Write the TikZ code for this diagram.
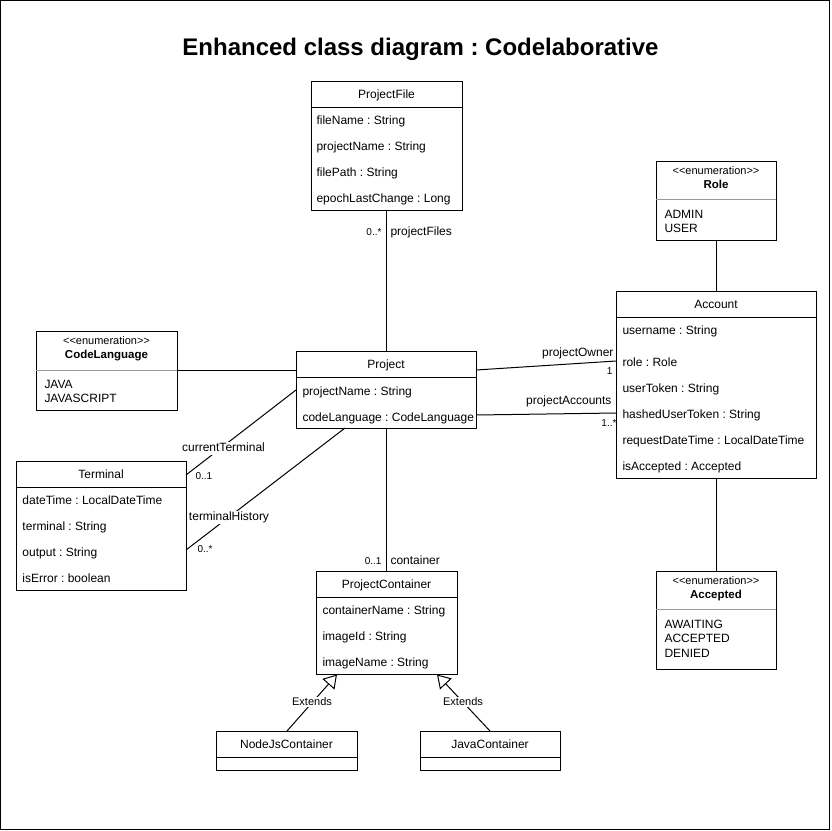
\documentclass[tikz,border=0pt]{standalone}
\usepackage{fontspec}
\setmainfont{Liberation Sans}
\usetikzlibrary{arrows.meta}
\frenchspacing
\newcommand{\enumst}{{<}{<}enumeration{>}{>}}
\begin{document}
\begin{tikzpicture}[x=1pt,y=-1pt,line width=1pt,
  box/.style={draw, inner sep=0, outer sep=0, anchor=north west, fill=white},
  attr/.style={anchor=base west, yshift=-5.2pt, inner sep=0, font=\fontsize{12}{14}\selectfont},
  ctitle/.style={anchor=base, yshift=-4.3pt, inner sep=0, font=\fontsize{12}{14}\selectfont},
  enumname/.style={anchor=base, inner sep=0, font=\fontsize{11.5}{14}\selectfont\bfseries},
  stereo/.style={anchor=base, inner sep=0, font=\fontsize{11}{13}\selectfont},
  elabel/.style={inner sep=1pt, fill=white, text height=8.5pt, text depth=2.5pt, font=\fontsize{12}{14}\selectfont},
  xlabel/.style={inner sep=1pt, fill=white, font=\fontsize{11}{13}\selectfont},
  mult/.style={inner sep=0, font=\fontsize{10}{12}\selectfont},
  divider/.style={line width=1pt},
  graydiv/.style={draw=black!40, line width=1pt},
  conn/.style={line width=1pt},
  ext/.style={line width=1pt, -{Triangle[open,length=13pt,width=16pt]}}
]
\useasboundingbox (0,0) rectangle (831,831);
\draw[line width=1pt] (0.5,0.5) rectangle (829.5,829.5);

\node[inner sep=0, font=\fontsize{24}{28}\selectfont\bfseries] (title) at (420.5,49) {Enhanced class diagram : Codelaborative};

% ProjectFile
\node[box, minimum width=151pt, minimum height=129pt] (pf) at (311,81) {};
\draw[divider] (311,107) -- (462,107);
\node[ctitle] (pft) at (386.5,94) {ProjectFile};
\node[attr] (pf1) at (316,119) {fileName : String};
\node[attr] (pf2) at (316,145) {projectName : String};
\node[attr] (pf3) at (316,171) {filePath : String};
\node[attr] (pf4) at (316,197) {epochLastChange : Long};

% Role
\node[box, minimum width=120pt, minimum height=79pt] (role) at (656,161) {};
\draw[graydiv] (656,199) -- (776,199);
\node[stereo] (roles) at (716,174.5) {\enumst};
\node[enumname] (rolet) at (716,188) {Role};
\node[attr] (role1) at (664,213) {ADMIN};
\node[attr] (role2) at (664,227) {USER};

% Account
\node[box, minimum width=200pt, minimum height=187pt] (acc) at (616,291) {};
\draw[divider] (616,317) -- (816,317);
\node[ctitle] (acct) at (716,304) {Account};
\node[attr] (acc1) at (622,329) {username : String};
\node[attr] (acc2) at (622,361) {role : Role};
\node[attr] (acc3) at (622,387) {userToken : String};
\node[attr] (acc4) at (622,413) {hashedUserToken : String};
\node[attr] (acc5) at (622,439) {requestDateTime : LocalDateTime};
\node[attr] (acc6) at (622,465) {isAccepted : Accepted};

% CodeLanguage
\node[box, minimum width=141pt, minimum height=79pt] (cl) at (36,331) {};
\draw[graydiv] (36,370) -- (177,370);
\node[stereo] (cls) at (106.5,344.5) {\enumst};
\node[enumname] (clt) at (106.5,358) {CodeLanguage};
\node[attr] (cl1) at (44,383) {JAVA};
\node[attr] (cl2) at (44,397) {JAVASCRIPT};

% Project
\node[box, minimum width=180pt, minimum height=77pt] (proj) at (296,351) {};
\draw[divider] (296,377) -- (476,377);
\node[ctitle] (projt) at (386,364) {Project};
\node[attr] (proj1) at (302,390) {projectName : String};
\node[attr] (proj2) at (302,416) {codeLanguage : CodeLanguage};

% Terminal
\node[box, minimum width=170pt, minimum height=129pt] (term) at (16,461) {};
\draw[divider] (16,487) -- (186,487);
\node[ctitle] (termt) at (101,474) {Terminal};
\node[attr] (term1) at (22,499) {dateTime : LocalDateTime};
\node[attr] (term2) at (22,525) {terminal : String};
\node[attr] (term3) at (22,551) {output : String};
\node[attr] (term4) at (22,577) {isError : boolean};

% ProjectContainer
\node[box, minimum width=141pt, minimum height=103pt] (pc) at (316,571) {};
\draw[divider] (316,597) -- (457,597);
\node[ctitle] (pct) at (386.5,584) {ProjectContainer};
\node[attr] (pc1) at (322,609) {containerName : String};
\node[attr] (pc2) at (322,635) {imageId : String};
\node[attr] (pc3) at (322,661) {imageName : String};

% NodeJsContainer
\node[box, minimum width=141pt, minimum height=39pt] (nj) at (216,731) {};
\draw[divider] (216,757) -- (357,757);
\node[ctitle] (njt) at (286.5,744) {NodeJsContainer};

% JavaContainer
\node[box, minimum width=140pt, minimum height=39pt] (jc) at (420,731) {};
\draw[divider] (420,757) -- (560,757);
\node[ctitle] (jct) at (490,744) {JavaContainer};

% Accepted
\node[box, minimum width=120pt, minimum height=98pt] (accp) at (656,571) {};
\draw[graydiv] (656,609) -- (776,609);
\node[stereo] (accps) at (716,584.5) {\enumst};
\node[enumname] (accpt) at (716,598) {Accepted};
\node[attr] (accp1) at (664,623) {AWAITING};
\node[attr] (accp2) at (664,637) {ACCEPTED};
\node[attr] (accp3) at (664,652) {DENIED};

% Connectors
\draw[conn] (pf.south) -- (pf.south |- proj.north);
\node[mult, anchor=east] (m1) at (382,232) {0..*};
\node[elabel, anchor=west] (l1) at (389,232) {projectFiles};

\draw[conn] (cl.east |- 0,370) -- (proj.west |- 0,370);

\draw[conn] (proj.east |- 0,370) -- (acc.west |- 0,361);
\node[elabel, anchor=east] (l2) at (615,353) {projectOwner};
\node[mult, anchor=east] (m2) at (613,371) {1};

\draw[conn] (proj.east |- 0,415) -- (acc.west |- 0,413);
\node[elabel, anchor=east] (l3) at (613,401) {projectAccounts};
\node[mult, anchor=east] (m3) at (617,423) {1..*};

\draw[conn] (proj.west |- 0,390) -- (term.east |- 0,475);
\node[elabel] (l4) at (223.5,448) {currentTerminal};
\node[mult, anchor=west] (m4) at (195,476) {0..1};

\draw[conn] (345,428) -- (term.east |- 0,550);
\node[elabel] (l5) at (229,517) {terminalHistory};
\node[mult, anchor=west] (m5) at (197,549) {0..*};

\draw[conn] (proj.south) -- (proj.south |- pc.north);
\node[mult, anchor=east] (m6) at (382,561) {0..1};
\node[elabel, anchor=west] (l6) at (389,561) {container};

\draw[conn] (role.south) -- (role.south |- acc.north);
\draw[conn] (acc.south) -- (acc.south |- accp.north);

\draw[ext] (287,731) -- (337,674.5);
\node[xlabel] (l7) at (312,702) {Extends};
\draw[ext] (490,731) -- (437,674.5);
\node[xlabel] (l8) at (463,702) {Extends};
\end{tikzpicture}
\end{document}
